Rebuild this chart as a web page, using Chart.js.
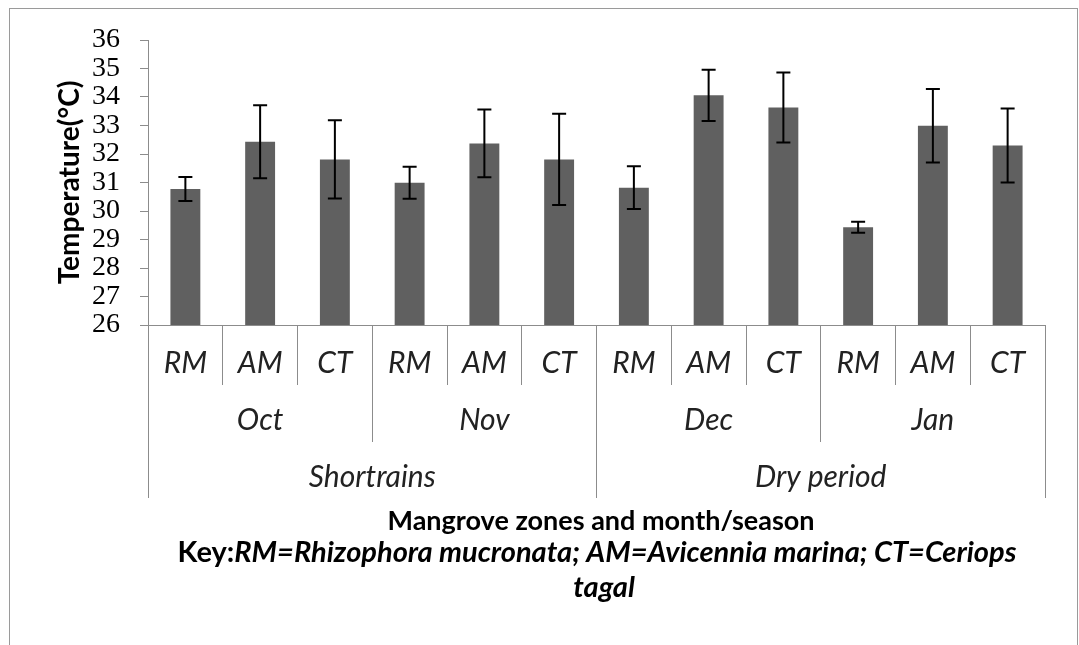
<!DOCTYPE html>
<html>
<head>
<meta charset="utf-8">
<script src="https://cdn.jsdelivr.net/npm/chart.js@4.4.1/dist/chart.umd.min.js"></script>
<style>
  body { margin: 0; background: #fff; }
  #wrap { position: relative; width: 1079px; height: 645px; overflow: hidden; }
  #frame { position: absolute; left: 9px; top: 8px; width: 1069px; height: 700px; box-sizing: border-box; border: 1px solid #9a9a9a; pointer-events: none; }
</style>
</head>
<body>
<div id="wrap">
  <canvas id="myBarChart"></canvas>
  <div id="frame"></div>
</div>
<script>
    // data
    const zones = ['RM', 'AM', 'CT', 'RM', 'AM', 'CT', 'RM', 'AM', 'CT', 'RM', 'AM', 'CT'];
    const months = ['Oct', 'Nov', 'Dec', 'Jan'];
    const seasons = ['Shortrains', 'Dry period'];
    const meanTemp = [30.77, 32.43, 31.81, 30.99, 32.37, 31.81, 30.82, 34.06, 33.63, 29.43, 32.99, 32.30];
    const errTemp = [0.42, 1.28, 1.37, 0.56, 1.19, 1.60, 0.75, 0.90, 1.23, 0.19, 1.29, 1.30];
    const yMin = 26, yMax = 36, yStep = 1;

    const xTitle = 'Mangrove zones and month/season';
    const keyLead = 'Key:';
    const keyText = 'RM=Rhizophora mucronata; AM=Avicennia marina; CT=Ceriops';
    const keyWrap = 'tagal';

    const axisGrey = '#8c8c8c';

    // error bars
    const errorBars = {
      id: 'errorBars',
      afterDatasetsDraw(chart) {
        const ctx = chart.ctx;
        const y = chart.scales.y;
        const meta = chart.getDatasetMeta(0);
        ctx.save();
        ctx.strokeStyle = '#000';
        ctx.lineWidth = 2;
        meta.data.forEach((bar, i) => {
          const top = y.getPixelForValue(meanTemp[i] + errTemp[i]);
          const bot = y.getPixelForValue(meanTemp[i] - errTemp[i]);
          ctx.beginPath();
          ctx.moveTo(bar.x, top); ctx.lineTo(bar.x, bot);
          ctx.moveTo(bar.x - 7, top); ctx.lineTo(bar.x + 7, top);
          ctx.moveTo(bar.x - 7, bot); ctx.lineTo(bar.x + 7, bot);
          ctx.stroke();
        });
        ctx.restore();
      }
    };

    // axis title + key under the grouped axis
    const keyNote = {
      id: 'keyNote',
      afterDraw(chart) {
        const ctx = chart.ctx;
        const base = chart.scales.season.bottom;
        ctx.save();
        ctx.fillStyle = '#000';
        ctx.textBaseline = 'middle';
        ctx.textAlign = 'center';
        ctx.font = 'bold 27px Lato';
        ctx.fillText(xTitle, 601, base + 23);

        ctx.textAlign = 'left';
        ctx.font = 'bold 29px Lato';
        const w1 = ctx.measureText(keyLead).width;
        ctx.font = 'italic bold 29px Lato';
        const w2 = ctx.measureText(keyText).width;
        let x0 = 597 - (w1 + w2) / 2;
        ctx.font = 'bold 29px Lato';
        ctx.fillText(keyLead, x0, base + 55);
        ctx.font = 'italic bold 29px Lato';
        ctx.fillText(keyText, x0 + w1, base + 55);
        ctx.textAlign = 'center';
        ctx.fillText(keyWrap, 604, base + 90);
        ctx.restore();
      }
    };

    const data = {
      labels: zones,
      datasets: [{
        data: meanTemp,
        backgroundColor: '#606060',
        borderWidth: 0,
        barPercentage: 0.4,
        categoryPercentage: 1
      }]
    };

    const labelFont = { family: 'Lato', size: 30, style: 'italic' };

    // config
    const config = {
      type: 'bar',
      data,
      plugins: [errorBars, keyNote],
      options: {
        responsive: true,
        maintainAspectRatio: false,
        animation: false,
        layout: { padding: { left: 53, right: 34, top: 40, bottom: 147 } },
        plugins: { legend: { display: false }, tooltip: { enabled: false } },
        scales: {
          y: {
            min: yMin, max: yMax,
            afterFit(s) { s.width = 95; },
            ticks: { stepSize: yStep, autoSkip: false, padding: 20, color: '#000', font: { family: 'Liberation Serif', size: 28 } },
            grid: { drawOnChartArea: false, tickLength: 8, color: axisGrey },
            border: { color: axisGrey },
            title: {
              display: true, text: 'Temperature(°C)', color: '#000',
              padding: { top: 0, bottom: 0 },
              font: { family: 'Lato', size: 28, weight: 'bold' }
            }
          },
          x: {
            offset: true, weight: 0,
            afterFit(s) { s.height = 60; },
            ticks: { padding: -40, color: '#222', font: labelFont, maxRotation: 0, autoSkip: false },
            grid: { offset: true, drawOnChartArea: false, tickLength: 60, color: axisGrey },
            border: { color: axisGrey }
          },
          month: {
            type: 'category', position: 'bottom', labels: months, offset: true, weight: 1,
            afterFit(s) { s.height = 57; },
            ticks: { padding: -40, color: '#222', font: labelFont, maxRotation: 0, autoSkip: false },
            grid: { offset: true, drawOnChartArea: false, tickLength: 57, color: axisGrey },
            border: { display: false }
          },
          season: {
            type: 'category', position: 'bottom', labels: seasons, offset: true, weight: 2,
            afterFit(s) { s.height = 56; },
            ticks: { padding: -39, color: '#222', font: labelFont, maxRotation: 0, autoSkip: false },
            grid: { offset: true, drawOnChartArea: false, tickLength: 56, color: axisGrey },
            border: { display: false }
          }
        }
      }
    };

    // render init block
    const myChart = new Chart(
      document.getElementById('myBarChart'),
      config
    );
</script>
</body>
</html>
